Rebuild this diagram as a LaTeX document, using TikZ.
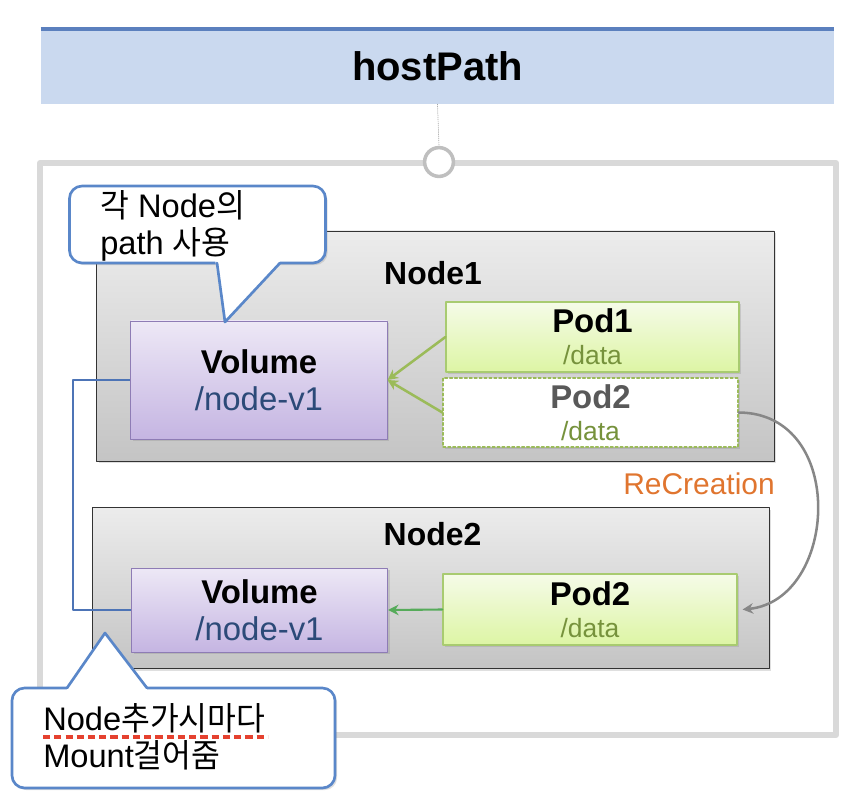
\documentclass[tikz,border=0pt]{standalone}
\usepackage{fontspec}
\setmainfont{Liberation Sans}
\newfontfamily\krfont[FakeStretch=0.96]{Noto Sans CJK KR}
\usetikzlibrary{arrows.meta, calc, positioning, shadows}
\definecolor{titleblue}{RGB}{202, 217, 239}
\definecolor{titleline}{RGB}{91, 128, 190}
\definecolor{framegray}{RGB}{217, 217, 217}
\definecolor{hookgray}{RGB}{191, 191, 191}
\definecolor{nodetop}{RGB}{236, 236, 236}
\definecolor{nodebottom}{RGB}{196, 196, 196}
\definecolor{voltop}{RGB}{237, 232, 246}
\definecolor{volbottom}{RGB}{197, 181, 226}
\definecolor{volborder}{RGB}{142, 124, 181}
\definecolor{podtop}{RGB}{245, 251, 232}
\definecolor{podbottom}{RGB}{221, 245, 164}
\definecolor{podborder}{RGB}{168, 203, 112}
\definecolor{olivegreen}{RGB}{155, 187, 89}
\definecolor{mountgreen}{RGB}{86, 171, 90}
\definecolor{pathblue}{RGB}{44, 74, 120}
\definecolor{datagreen}{RGB}{118, 146, 60}
\definecolor{ghostgray}{RGB}{89, 89, 89}
\definecolor{recorange}{RGB}{224, 117, 47}
\definecolor{arcgray}{RGB}{135, 135, 135}
\definecolor{linkblue}{RGB}{77, 116, 182}
\definecolor{calloutblue}{RGB}{90, 135, 201}
\definecolor{spellred}{RGB}{229, 65, 47}
\newcommand\datatext[1]{{\fontsize{18.8}{23}\selectfont\color{datagreen}#1}}

\begin{document}
\begin{tikzpicture}[line cap=round, line join=round, >={Stealth[length=7.5pt,width=7.5pt]},
	x=0.025cm, y=-0.025cm,
	boxshadow/.style={drop shadow={shadow xshift=1.5pt, shadow yshift=-1.5pt, opacity=0.25}},
	hostbox/.style={draw=black!80, line width=0.6pt, top color=nodetop, bottom color=nodebottom, boxshadow},
	hostlabel/.style={font=\fontsize{22.7}{26}\selectfont\bfseries},
	volbox/.style={draw=volborder, line width=0.7pt, top color=voltop, bottom color=volbottom, boxshadow, minimum width=6.4cm, align=center, font=\fontsize{23.4}{26}\selectfont},
	podbox/.style={draw=podborder, line width=0.8pt, top color=podtop, bottom color=podbottom, boxshadow, minimum width=7.35cm, align=center, font=\fontsize{23.4}{23}\selectfont},
	ghostbox/.style={draw=olivegreen, line width=0.8pt, dash pattern=on 2pt off 1.5pt, fill=white, boxshadow, minimum width=7.375cm, align=center, font=\fontsize{23.4}{23}\selectfont},
	callbox/.style={draw=calloutblue, line width=1.9pt, fill=white, rounded corners=9pt, boxshadow},
	callouttext/.style={inner sep=0pt, align=left, anchor=west, font=\fontsize{23.2}{26.5}\selectfont}]
	\useasboundingbox (0,0) rectangle (854,804);

	% outer frame and title
	\draw[framegray, line width=4.2pt] (40,163) rectangle (836,735);
	\node[fill=titleblue, minimum width=19.825cm, minimum height=1.875cm, text depth=0pt, font=\fontsize{28.4}{30}\selectfont\bfseries] (title) at (437.5,66.5) {hostPath};
	\draw[titleline, line width=2.8pt, line cap=butt] (title.north west) -- (title.north east);
	\node[circle, draw=hookgray, line width=2.5pt, fill=white, minimum size=0.72cm, inner sep=0pt] (hook) at (439,162) {};
	\draw[gray!70, densely dotted, line width=0.5pt] (title.south) -- (hook.north);

	% worker nodes
	\node[hostbox, minimum width=16.925cm, minimum height=5.75cm] (host1) at (435.5,346) {};
	\node[hostlabel] (host1name) at (433,273) {Node1};
	\node[hostbox, minimum width=16.9cm, minimum height=4.025cm] (host2) at (431,588) {};
	\node[hostlabel] (host2name) at (432.5,534) {Node2};

	% mount link between the volumes
	\draw[linkblue, line width=1.6pt] (131,380) -- ++(-58,0) |- (131,610);

	% volumes and pods
	\node[volbox, minimum height=2.95cm] (vol1) at (259,380) {\textbf{Volume}\\\textcolor{pathblue}{/node-v1}};
	\node[volbox, minimum height=2.1cm] (vol2) at (259.5,610) {\textbf{Volume}\\\textcolor{pathblue}{/node-v1}};
	\node[podbox, minimum height=1.75cm, minimum width=7.325cm] (pod1) at (592.5,337) {\textbf{Pod1}\\\datatext{/data}};
	\node[ghostbox, minimum height=1.725cm] (pod2a) at (590.5,412.5) {\textcolor{ghostgray}{\textbf{Pod2}}\\\datatext{/data}};
	\node[podbox, minimum height=1.775cm] (pod2b) at (590,609.5) {\textbf{Pod2}\\\datatext{/data}};

	\draw[->, olivegreen, line width=1.8pt] (pod1.west) -- (vol1.east);
	\draw[->, olivegreen, line width=1.8pt] (pod2a.west) -- (vol1.east);
	\draw[->, mountgreen, line width=1.5pt] (pod2b.west) -- (vol2.east);

	% pod moves to the other node
	\draw[->, arcgray, line width=1.8pt] (pod2a.east) .. controls (848,413) and (838,600) .. ($(pod2b.east)+(5,0)$);
	\node[text=recorange, font=\fontsize{21.3}{24}\selectfont] (recreate) at (699,484) {ReCreation};

	% callouts
	\node[callbox, minimum width=6.4cm, minimum height=1.925cm] (note1) at (197.5,224.5) {};
	\fill[white] (215,259) -- (225,322) -- (282,259) -- cycle;
	\draw[calloutblue, line width=1.9pt] (217,263) -- (225,322) -- (280,263);
	\node[callouttext] (note1text) at (100,226) {{\krfont 각} Node{\krfont 의}\\path {\krfont 사용}};

	\node[callbox, minimum width=8.075cm, minimum height=2.5cm] (note2) at (173.5,738) {};
	\fill[white] (65,692) -- (105,633) -- (149,692) -- cycle;
	\draw[calloutblue, line width=1.9pt] (67,688) -- (105,633) -- (147,688);
	\node[callouttext] (note2text) at (43,737) {Node{\krfont 추가시마다}\\Mount{\krfont 걸어줌}};
	\draw[spellred, line width=2.6pt, dash pattern=on 5pt off 3pt, line cap=butt] (43,737) -- (268,737);

\end{tikzpicture}
\end{document}
